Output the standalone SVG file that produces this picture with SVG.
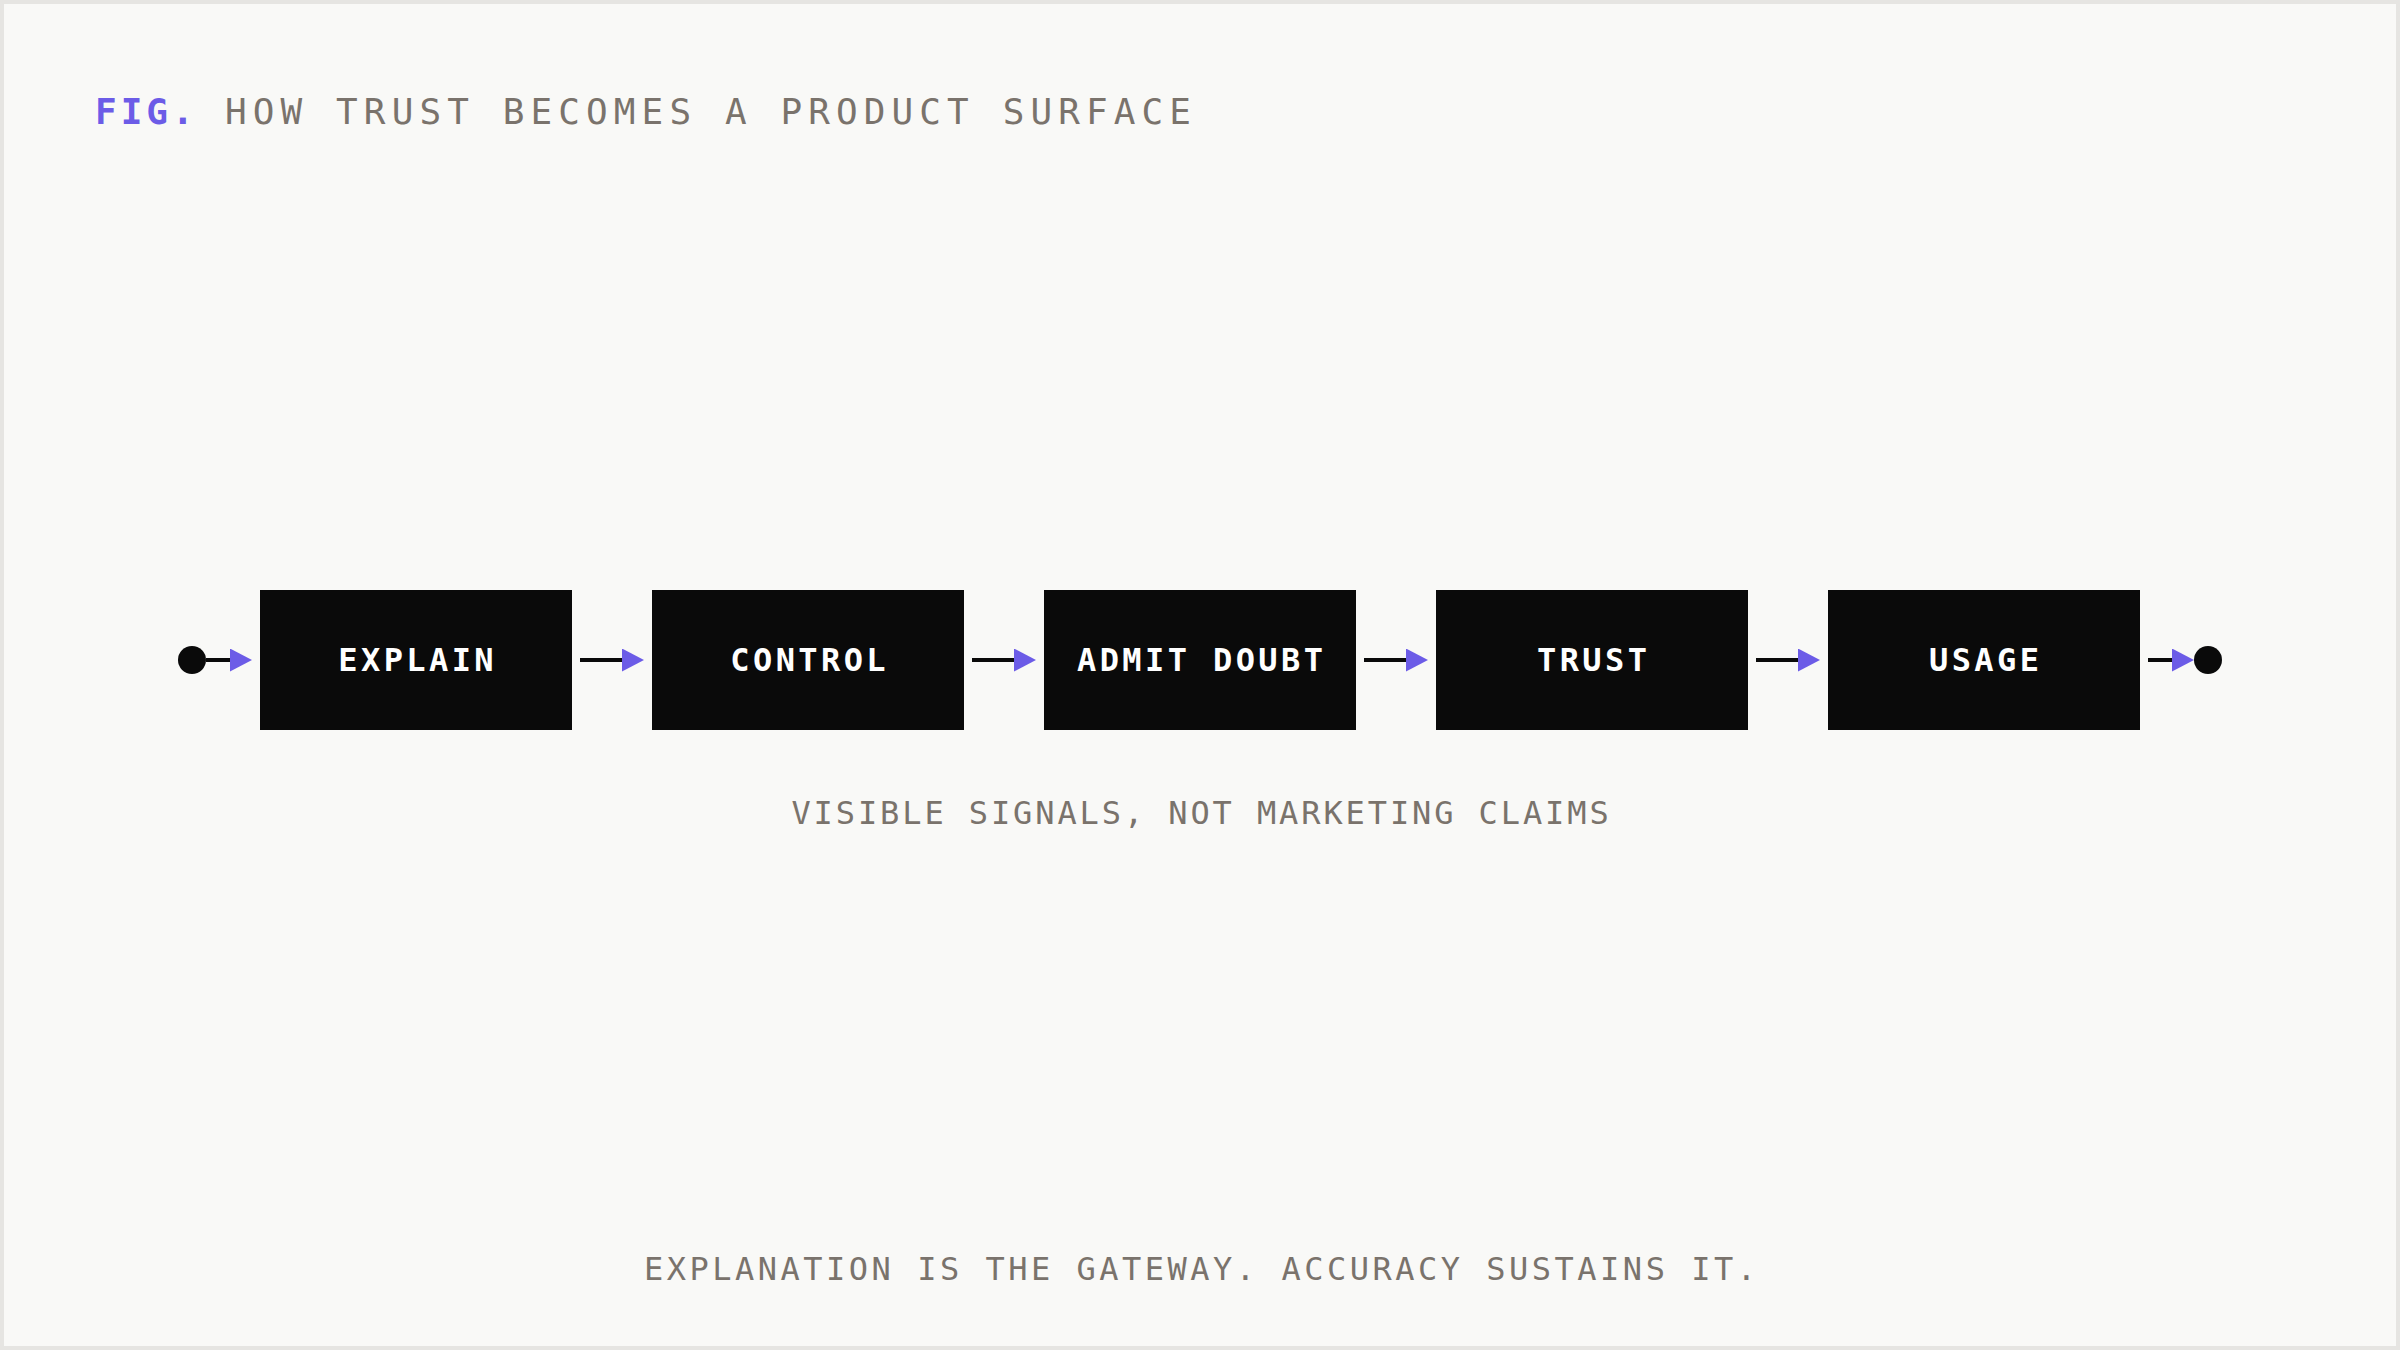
<svg xmlns="http://www.w3.org/2000/svg" width="2400" height="1350" viewBox="0 0 2400 1350">
  <style>
    .mono { font-family: "DejaVu Sans Mono", "Liberation Mono", monospace; }
    .title { font-size: 36px; letter-spacing: 6.1px; fill: #7a736c; }
    .fig { font-size: 36px; letter-spacing: 4px; fill: #6c5ce7; font-weight: bold; }
    .caption { font-size: 32px; letter-spacing: 3.5px; fill: #7a736c; }
    .sub { letter-spacing: 2.9px; }
    .box { fill: #0a0a0a; }
    .label { font-size: 32px; letter-spacing: 3.4px; fill: #ffffff; font-weight: bold; }
    .conn { stroke: #0a0a0a; stroke-width: 4; fill: none; }
    .dot { fill: #0a0a0a; }
  </style>
  <defs>
    <marker id="arrow" markerUnits="userSpaceOnUse" markerWidth="22" markerHeight="23" refX="0" refY="11.5" orient="auto" viewBox="0 0 22 23">
      <path d="M0,0 L22,11.5 L0,23 Z" fill="#6c5ce7"/>
    </marker>
  </defs>
  <rect x="2" y="2" width="2396" height="1346" fill="#f9f9f7" stroke="#e6e5e2" stroke-width="4"/>

  <text class="mono fig" x="95" y="124">FIG.</text>
  <text class="mono title" x="225" y="124">HOW TRUST BECOMES A PRODUCT SURFACE</text>

  <g id="start"><circle class="dot" cx="192" cy="660" r="14"/></g>
  <g id="end"><circle class="dot" cx="2208" cy="660" r="14"/></g>

  <g id="node-explain">
    <rect class="box" x="260" y="590" width="312" height="140"/>
    <text class="mono label" x="417.7" y="671" text-anchor="middle">EXPLAIN</text>
  </g>
  <g id="node-control">
    <rect class="box" x="652" y="590" width="312" height="140"/>
    <text class="mono label" x="809.7" y="671" text-anchor="middle">CONTROL</text>
  </g>
  <g id="node-admit-doubt">
    <rect class="box" x="1044" y="590" width="312" height="140"/>
    <text class="mono label" x="1201.7" y="671" text-anchor="middle">ADMIT DOUBT</text>
  </g>
  <g id="node-trust">
    <rect class="box" x="1436" y="590" width="312" height="140"/>
    <text class="mono label" x="1593.7" y="671" text-anchor="middle">TRUST</text>
  </g>
  <g id="node-usage">
    <rect class="box" x="1828" y="590" width="312" height="140"/>
    <text class="mono label" x="1985.7" y="671" text-anchor="middle">USAGE</text>
  </g>

  <g id="connectors">
    <line class="conn" x1="206" y1="660" x2="230" y2="660" marker-end="url(#arrow)"/>
    <line class="conn" x1="580" y1="660" x2="622" y2="660" marker-end="url(#arrow)"/>
    <line class="conn" x1="972" y1="660" x2="1014" y2="660" marker-end="url(#arrow)"/>
    <line class="conn" x1="1364" y1="660" x2="1406" y2="660" marker-end="url(#arrow)"/>
    <line class="conn" x1="1756" y1="660" x2="1798" y2="660" marker-end="url(#arrow)"/>
    <line class="conn" x1="2148" y1="660" x2="2172" y2="660" marker-end="url(#arrow)"/>
  </g>

  <text class="mono caption sub" x="1201.5" y="824" text-anchor="middle">VISIBLE SIGNALS, NOT MARKETING CLAIMS</text>
  <text class="mono caption" x="1201.7" y="1280" text-anchor="middle">EXPLANATION IS THE GATEWAY. ACCURACY SUSTAINS IT.</text>
</svg>
